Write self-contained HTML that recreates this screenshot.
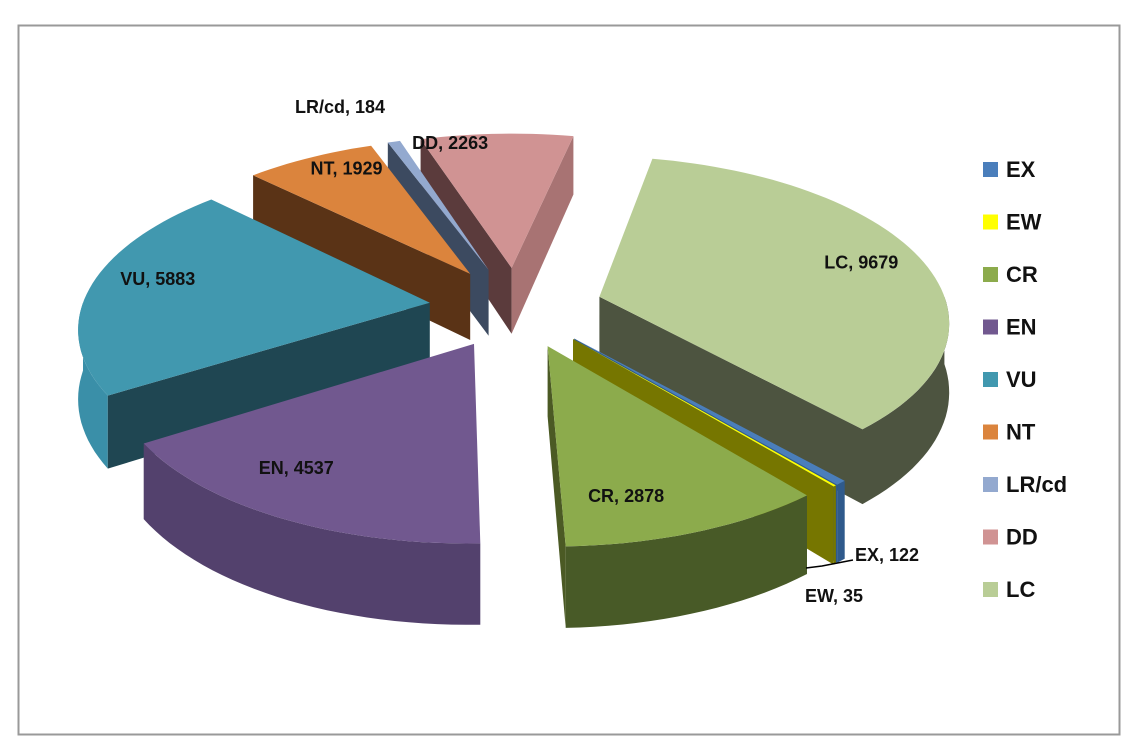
<!DOCTYPE html>
<html><head><meta charset="utf-8"><style>
body{margin:0;background:#fff;width:1121px;height:756px;overflow:hidden}
svg{display:block;font-family:"Liberation Sans",sans-serif;font-weight:bold}
</style></head><body>
<svg id="chart" width="1121" height="756">
<rect x="18.5" y="25.5" width="1101" height="709" fill="#fff" stroke="#999" stroke-width="2"/>
<g id="slices"></g>
<g id="labels"></g>
<g id="legend"></g>
</svg>
<script>
const categories = ["EX","EW","CR","EN","VU","NT","LR/cd","DD","LC"];
const values = [122,35,2878,4537,5883,1929,184,2263,9679];
const topColors = ["#4a7ebb","#ffff00","#8cab4c","#71588f","#4198af","#db843d","#93a9cf","#d09393","#b9cd96"];
const wallA1 = ["#1f3a5c","#6e6e00","#4b5a24","#4b3a63","#1f4652","#5a3316","#3c4a60","#5b3b3c","#4d5440"];
const wallA2 = ["#2f5a8c","#767600","#4b5a24","#4b3a63","#1f4652","#5a3316","#3c4a60","#a87373","#4d5440"];
const outerColors = ["#2f5a8c","#767600","#485a27","#53416d","#3a8fa8","#6b3c17","#5a6d90","#8a5e5e","#4d5440"];

const NS="http://www.w3.org/2000/svg";
const CX=516, CY=307, RX=348, RY=162, P=0.134, H=68, E=0.25, START=138.5;
const rad=d=>d*Math.PI/180;
function proj(u,v,h){const ds=1/(1+P*v);return [CX+RX*u*ds, CY-RY*v*ds+h*H*ds];}
function pt(a,r,ou,ov,h){return proj(ou+r*Math.sin(rad(a)), ov+r*Math.cos(rad(a)), h);}
function poly(points,fill,name){
  const p=document.createElementNS(NS,"polygon");
  p.setAttribute("points",points.map(q=>q[0].toFixed(1)+","+q[1].toFixed(1)).join(" "));
  p.setAttribute("fill",fill);
  
  
  return p;
}
const total=values.reduce((s,v)=>s+v,0);
const sl=[];let acc=0;
values.forEach((v,i)=>{const a1=START+acc/total*360;acc+=v;const a2=START+acc/total*360;
  const mid=(a1+a2)/2;const ou=E*Math.sin(rad(mid)),ov=E*Math.cos(rad(mid));
  sl.push({i,a1,a2,mid,ou,ov});});
const gS=document.getElementById("slices");
[...sl].sort((a,b)=>b.ov-a.ov).forEach(s=>{
  const g=document.createElementNS(NS,"g");
  
  
  const {a1,a2,ou,ov,i}=s;
  // outer wall: visible where cos<0 (front)
  const segs=[];
  for(let k=-1;k<=2;k++){const lo=Math.max(a1,90+360*k),hi=Math.min(a2,270+360*k);if(hi>lo)segs.push([lo,hi]);}
  segs.forEach(([lo,hi])=>{const pts=[];const n=Math.max(2,Math.ceil((hi-lo)/2));
    for(let j=0;j<=n;j++)pts.push(pt(lo+(hi-lo)*j/n,1,ou,ov,0));
    for(let j=n;j>=0;j--)pts.push(pt(lo+(hi-lo)*j/n,1,ou,ov,1));
    g.appendChild(poly(pts,outerColors[i],"outer-wall"));});
  // radial walls
  if(Math.sin(rad(a1))<0){g.appendChild(poly([pt(0,0,ou,ov,0),pt(a1,1,ou,ov,0),pt(a1,1,ou,ov,1),pt(0,0,ou,ov,1)],wallA1[i],"side-wall"));}
  if(Math.sin(rad(a2))>0){g.appendChild(poly([pt(0,0,ou,ov,0),pt(a2,1,ou,ov,0),pt(a2,1,ou,ov,1),pt(0,0,ou,ov,1)],wallA2[i],"side-wall"));}
  // top face
  const pts=[pt(0,0,ou,ov,0)];const n=Math.max(2,Math.ceil((a2-a1)/2));
  for(let j=0;j<=n;j++)pts.push(pt(a1+(a2-a1)*j/n,1,ou,ov,0));
  g.appendChild(poly(pts,topColors[i],"top-face"));
  gS.appendChild(g);
});
// labels
const gL=document.getElementById("labels");
const nudge={"EX":null,"EW":null,"CR":[-30,17],"EN":[-35,0],"VU":[-17,-10],"NT":[0,-15],"LR/cd":null,"DD":[-50,-20],"LC":[20,-3]};
function text(x,y,str,size,anchor,name){const t=document.createElementNS(NS,"text");
  t.setAttribute("x",x);t.setAttribute("y",y);t.setAttribute("font-size",size);
  t.setAttribute("text-anchor",anchor);t.setAttribute("dominant-baseline","middle");t.setAttribute("fill","#111");
  t.textContent=str;
  
  
  return t;}
sl.forEach(s=>{const c=categories[s.i];const str=c+", "+values[s.i];
  const nm="label-"+c.toLowerCase().replace("/","-");
  let x,y;
  if(nudge[c]){const q=pt(s.mid,0.75,s.ou,s.ov,0);x=q[0]+nudge[c][0];y=q[1]+nudge[c][1];gL.appendChild(text(x,y,str,18,"middle",nm));}
  else if(c==="LR/cd"){gL.appendChild(text(340,108,str,18,"middle",nm));}
  else if(c==="EW"){gL.appendChild(text(834,597,str,18,"middle",nm));}
  else if(c==="EX"){
    const l=document.createElementNS(NS,"polyline");
    l.setAttribute("points","806,568 822,566 853,560");l.setAttribute("fill","none");l.setAttribute("stroke","#000");l.setAttribute("stroke-width","1.5");
    
    
    gL.appendChild(l);
    gL.appendChild(text(855,556,str,18,"start",nm));}
});
// legend
const gG=document.getElementById("legend");
categories.forEach((c,i)=>{const y=170+i*52.5;
  const r=document.createElementNS(NS,"rect");
  r.setAttribute("x",983);r.setAttribute("y",y-8);r.setAttribute("width",15);r.setAttribute("height",15);r.setAttribute("fill",topColors[i]);
  
  
  gG.appendChild(r);
  gG.appendChild(text(1006,y+1,c,22,"start","legend-entry"));});
</script>
</body></html>
